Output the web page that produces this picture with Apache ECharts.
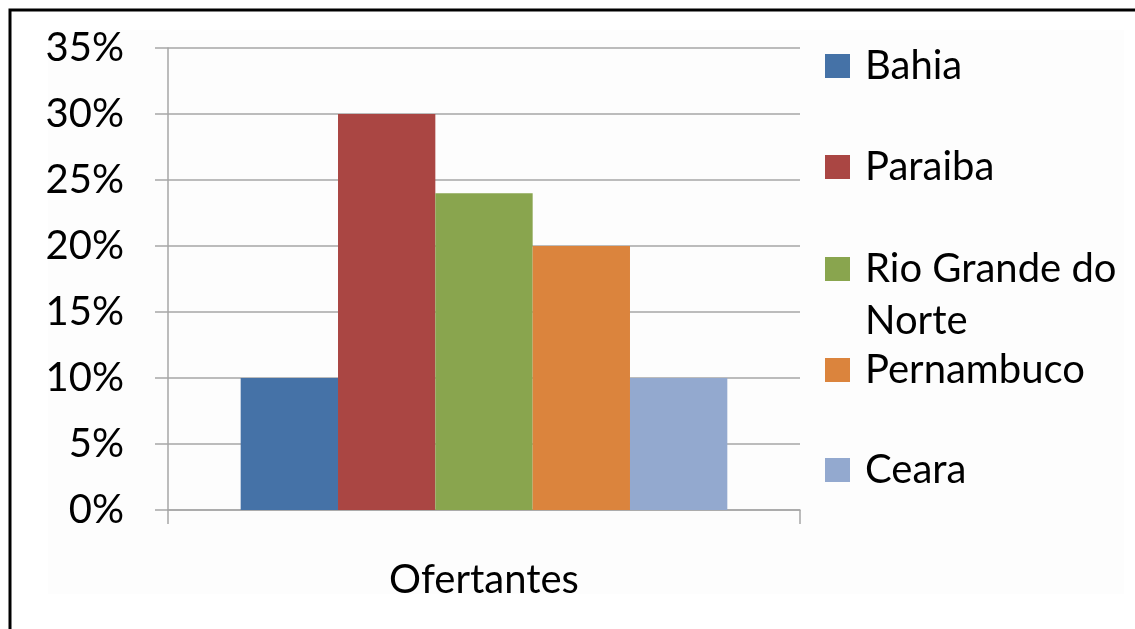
<!DOCTYPE html>
<html>
<head>
<meta charset="utf-8">
<script src="https://cdn.jsdelivr.net/npm/echarts@6/dist/echarts.min.js"></script>
<style>
  html, body { margin: 0; padding: 0; background: #fff; }
  #root { width: 1135px; height: 629px; }
</style>
</head>
<body>
<div id="root"></div>
<script>
const categories = ["Ofertantes"];
const states = ["Bahia", "Paraiba", "Rio Grande do Norte", "Pernambuco", "Ceara"];
const shares = [0.10, 0.30, 0.24, 0.20, 0.10];
const colors = ["#4572a7", "#aa4643", "#89a54e", "#db843d", "#93a9cf"];
// legend rows, centre y of each icon
const legendRows = [66, 167, 269, 370, 470];

const font = "Lato";
const gray = "#a6a6a6";
const lineH = 52;

const chart = echarts.init(document.getElementById("root"));

const legends = states.map(function (name, i) {
  const twoLine = name === "Rio Grande do Norte";
  return {
    data: [name],
    orient: "vertical",
    left: 825,
    // two-line item gets a blank line on top so the icon sits on the first line
    top: twoLine ? legendRows[i] - lineH * 1.5 : legendRows[i] - lineH / 2,
    padding: 0,
    itemWidth: 25,
    itemHeight: 24,
    icon: "rect",
    selectedMode: false,
    formatter: function (n) {
      return twoLine ? "\nRio Grande do\nNorte" : n;
    },
    textStyle: {
      fontFamily: font,
      fontSize: 40,
      color: "#000",
      lineHeight: lineH,
      padding: [0, 0, 0, 10]
    }
  };
});

chart.setOption({
  animation: false,
  backgroundColor: "#fff",
  textStyle: { fontFamily: font },
  graphic: [
    {
      type: "rect", z: -10, silent: true,
      shape: { x: 48, y: 30, width: 1076, height: 564 },
      style: { fill: "#fdfdfd" }
    },
    {
      type: "rect", z: 100, silent: true,
      shape: { x: 10, y: 10, width: 1200, height: 700 },
      style: { fill: "none", stroke: "#000", lineWidth: 3 }
    }
  ],
  legend: legends,
  grid: { left: 168, right: 335, top: 48, bottom: 119 },
  xAxis: {
    type: "category",
    data: categories,
    axisLine: { lineStyle: { color: gray, width: 1.5 } },
    axisTick: { show: true, length: 14, lineStyle: { color: gray, width: 1.5 } },
    axisLabel: { margin: 50, fontFamily: font, fontSize: 40, color: "#000" }
  },
  yAxis: {
    type: "value",
    min: 0,
    max: 0.35,
    interval: 0.05,
    axisLine: { show: true, lineStyle: { color: gray, width: 1.5 } },
    axisTick: { show: true, length: 13, lineStyle: { color: gray, width: 1.5 } },
    splitLine: { lineStyle: { color: gray, width: 1.5 } },
    axisLabel: {
      margin: 44,
      fontFamily: font,
      fontSize: 40,
      color: "#000",
      formatter: function (v) { return Math.round(v * 100) + "%"; }
    }
  },
  series: states.map(function (name, i) {
    return {
      name: name,
      type: "bar",
      data: [shares[i]],
      barGap: 0,
      barCategoryGap: "23%",
      itemStyle: { color: colors[i] }
    };
  })
});
</script>
</body>
</html>
